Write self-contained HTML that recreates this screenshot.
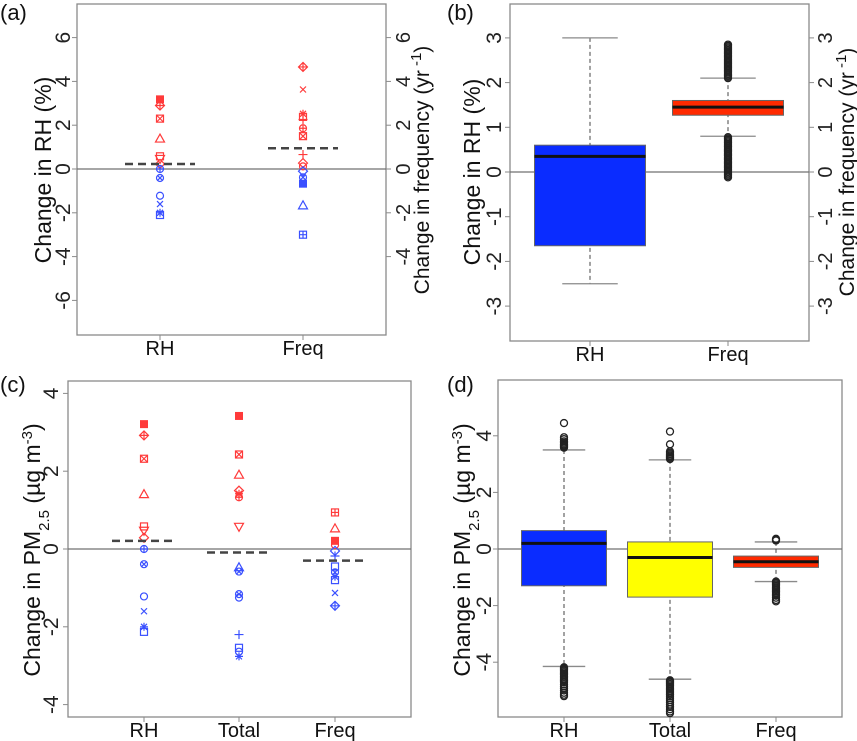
<!DOCTYPE html>
<html><head><meta charset="utf-8"><style>
html,body{margin:0;padding:0;background:#fff;}
svg{display:block;font-family:"Liberation Sans",Arial,sans-serif;}
</style></head><body>
<svg id="fig" width="857" height="741" viewBox="0 0 857 741" xmlns="http://www.w3.org/2000/svg"></svg>
<script>
// ---------- Panel (a) data ----------
const aCats = ["RH","Freq"];
const aRHVals = [3.18,2.9,2.3,1.39,0.58,0.46,0.23,0,-0.41,-1.22,-1.6,-2.0,-2.1];
const aRHShapes = ["fsq","dplus","sqx","tri","sq","dtri","dia","cplus","cx","circ","x","star","sq"];
const aFreqVals = [4.66,3.63,2.52,2.38,2.26,1.86,1.5,0.66,0.27,0.12,-0.1,-0.38,-0.67,-1.66,-3.0];
const aFreqShapes = ["dplus","x","star","sq","plus","cplus","sqx","plus","dia","circ","dia","cx","fsq","tri","sqp"];
const aMeans = [0.23,0.95];
const aTicks = [-6,-4,-2,0,2,4,6];
const aRightTicks = [-4,-2,0,2,4,6];
// ---------- Panel (b) data ----------
const bCats = ["RH","Freq"];
const bQ1 = [-1.65,1.27];
const bMed = [0.35,1.45];
const bQ3 = [0.6,1.6];
const bLow = [-2.5,0.8];
const bHigh = [3.0,2.1];
const bOutFreqHigh = [2.1,2.13,2.16,2.19,2.22,2.25,2.28,2.31,2.34,2.37,2.4,2.43,2.46,2.49,2.52,2.55,2.58,2.61,2.64,2.67,2.7,2.73,2.76,2.79,2.82,2.85];
const bOutFreqLow = [-0.12,-0.09,-0.06,-0.03,0,0.03,0.06,0.09,0.12,0.15,0.18,0.21,0.24,0.27,0.3,0.33,0.36,0.39,0.42,0.45,0.48,0.51,0.54,0.57,0.6,0.63,0.66,0.69,0.72,0.75,0.78];
const bTicks = [-3,-2,-1,0,1,2,3];
// ---------- Panel (c) data ----------
const cCats = ["RH","Total","Freq"];
const cRHVals = [3.21,2.92,2.32,1.41,0.58,0.47,0.29,0,-0.39,-1.22,-1.6,-2.0,-2.13];
const cRHShapes = ["fsq","dplus","sqx","tri","sq","dtri","dia","cplus","cx","circ","x","star","sq"];
const cTotVals = [3.42,2.43,1.91,1.5,1.42,1.33,0.57,-0.47,-0.58,-1.16,-1.25,-2.2,-2.54,-2.64,-2.76];
const cTotShapes = ["fsq","sqx","tri","dia","star","cplus","dtri","tri","cx","cx","circ","plus","sq","circ","star"];
const cFreqVals = [0.94,0.53,0.21,0.1,-0.05,-0.18,-0.45,-0.6,-0.71,-0.8,-1.13,-1.46];
const cFreqShapes = ["sqp","tri","fsq","circ","dia","plus","sq","cx","star","sq","x","dplus"];
const cMeans = [0.21,-0.09,-0.3];
const cTicks = [-4,-2,0,2,4];
// ---------- Panel (d) data ----------
const dCats = ["RH","Total","Freq"];
const dQ1 = [-1.3,-1.7,-0.65];
const dMed = [0.2,-0.3,-0.45];
const dQ3 = [0.65,0.25,-0.25];
const dLow = [-4.15,-4.6,-1.15];
const dHigh = [3.5,3.15,0.25];
const dOutRH = [3.58,3.62,3.66,3.7,3.75,3.8,3.88,3.95,4.45,-4.18,-4.22,-4.26,-4.3,-4.35,-4.4,-4.45,-4.5,-4.55,-4.6,-4.65,-4.7,-4.78,-4.85,-4.92,-5.0,-5.08,-5.15,-5.2];
const dOutTot = [3.18,3.22,3.26,3.3,3.35,3.4,3.45,3.7,4.15,-4.64,-4.68,-4.72,-4.77,-4.82,-4.87,-4.92,-4.97,-5.02,-5.08,-5.14,-5.2,-5.27,-5.34,-5.42,-5.5,-5.58,-5.66,-5.74,-5.8];
const dOutFreq = [0.3,0.33,0.36,-1.15,-1.2,-1.25,-1.3,-1.35,-1.4,-1.45,-1.5,-1.55,-1.6,-1.65,-1.72,-1.8,-1.85];
const dTicks = [-4,-2,0,2,4];

const NS = "http://www.w3.org/2000/svg";
const svg = document.getElementById("fig");
function mk(tag, attrs, parent, text){
  const e = document.createElementNS(NS, tag);
  for (const k in attrs) e.setAttribute(k, attrs[k]);
  if (text !== undefined) e.textContent = text;
  (parent || svg).appendChild(e);
  return e;
}
const RED = "#ff3a3a", BLUE = "#3a50ff";

function symbol(g, shape, x, y, col){
  const r = 3.5;
  const s = {fill:"none", stroke:col, "stroke-width":1.2};
  let e;
  if (shape === "fsq") { e = mk("rect", {x:x-r,y:y-r,width:2*r,height:2*r,fill:col,stroke:col}, g); }
  else if (shape === "sq" || shape === "sqx" || shape === "sqp") {
    e = mk("rect", Object.assign({x:x-r,y:y-r,width:2*r,height:2*r}, s), g);
    if (shape === "sqx") { mk("path", Object.assign({d:`M${x-r} ${y-r}L${x+r} ${y+r}M${x+r} ${y-r}L${x-r} ${y+r}`}, s), g); }
    if (shape === "sqp") { mk("path", Object.assign({d:`M${x-r} ${y}L${x+r} ${y}M${x} ${y-r}L${x} ${y+r}`}, s), g); }
  }
  else if (shape === "circ" || shape === "cx" || shape === "cplus") {
    e = mk("circle", Object.assign({cx:x,cy:y,r:r}, s), g);
    if (shape === "cx") mk("path", Object.assign({d:`M${x-2.5} ${y-2.5}L${x+2.5} ${y+2.5}M${x+2.5} ${y-2.5}L${x-2.5} ${y+2.5}`}, s), g);
    if (shape === "cplus") mk("path", Object.assign({d:`M${x-r} ${y}L${x+r} ${y}M${x} ${y-r}L${x} ${y+r}`}, s), g);
  }
  else if (shape === "tri") { e = mk("path", Object.assign({d:`M${x} ${y-4.5}L${x+4.5} ${y+3.5}L${x-4.5} ${y+3.5}Z`}, s), g); }
  else if (shape === "dtri") { e = mk("path", Object.assign({d:`M${x} ${y+4.5}L${x+4.5} ${y-3.5}L${x-4.5} ${y-3.5}Z`}, s), g); }
  else if (shape === "dia" || shape === "dplus") {
    e = mk("path", Object.assign({d:`M${x} ${y-4.5}L${x+4.5} ${y}L${x} ${y+4.5}L${x-4.5} ${y}Z`}, s), g);
    if (shape === "dplus") mk("path", Object.assign({d:`M${x-4.5} ${y}L${x+4.5} ${y}M${x} ${y-4.5}L${x} ${y+4.5}`}, s), g);
  }
  else if (shape === "x") { e = mk("path", Object.assign({d:`M${x-3} ${y-3}L${x+3} ${y+3}M${x+3} ${y-3}L${x-3} ${y+3}`}, s), g); }
  else if (shape === "plus") { e = mk("path", Object.assign({d:`M${x-4.5} ${y}L${x+4.5} ${y}M${x} ${y-4.5}L${x} ${y+4.5}`}, s), g); }
  else { e = mk("path", Object.assign({d:`M${x-4} ${y}L${x+4} ${y}M${x} ${y-4}L${x} ${y+4}M${x-3} ${y-3}L${x+3} ${y+3}M${x+3} ${y-3}L${x-3} ${y+3}`}, s), g); }
  return e;
}

function panel(o){
  const g = mk("g", {});
  
  
  const y = v => o.y0 - v * o.k;
  const lab = mk("text", {x:o.labX, y:o.labY, "font-size":22, fill:"#111"}, g, o.label);
  
  
  const frame = mk("rect", {x:o.L, y:o.T, width:o.R-o.L, height:o.B-o.T, fill:"none", stroke:"#8a8a8a", "stroke-width":1.3}, g);
  
  
  const zl = mk("line", {x1:o.L, x2:o.R, y1:y(0), y2:y(0), stroke:"#707070", "stroke-width":1.2}, g);
  
  
  o.ticks.forEach(t => {
    const tk = mk("line", {x1:o.L-5, x2:o.L, y1:y(t), y2:y(t), stroke:"#8a8a8a"}, g);
    
    
    const tl = mk("text", {x:0, y:0, "font-size":21, "text-anchor":"middle", fill:"#222", transform:`translate(${o.tickX},${y(t)}) rotate(-90)`}, g, String(t));
    
    
  });
  if (o.rticks) {
    o.rticks.forEach(t => {
      const tk = mk("line", {x1:o.R, x2:o.R+5, y1:y(t), y2:y(t), stroke:"#8a8a8a"}, g);
      
      
      const tl = mk("text", {x:0, y:0, "font-size":20, "text-anchor":"middle", fill:"#222", transform:`translate(${o.rtickX},${y(t)}) rotate(-90)`}, g, String(t));
      
      
    });
  }
  o.cats.forEach((c, i) => {
    const tk = mk("line", {x1:o.cx[i], x2:o.cx[i], y1:o.B, y2:o.B+5, stroke:"#8a8a8a"}, g);
    
    
    const tl = mk("text", {x:o.cx[i], y:o.B+20, "font-size":20, "text-anchor":"middle", fill:"#111"}, g, c);
    
    
  });
  return {g, y};
}

function ytitle(g, x, yc, parts, name, fs){
  const t = mk("text", {x:0, y:0, "font-size":fs || 23, "text-anchor":"middle", fill:"#111", transform:`translate(${x},${yc}) rotate(-90)`}, g);
  
  
  parts.forEach(p => {
    mk("tspan", p.sub ? {"baseline-shift":p.sub, "font-size":15} : {}, t, p.t);
  });
}

function scatter(g, y, xc, vals, shapes, name){
  vals.forEach((v, i) => {
    const col = v > 0.001 || (v === 0 && i < vals.length/2) ? RED : BLUE;
    const e = symbol(g, shapes[i], xc, y(v), col);
    
    
  });
}
function meanLine(g, y, xc, v, hw){
  const e = mk("line", {x1:xc-hw, x2:xc+hw, y1:y(v), y2:y(v), stroke:"#444", "stroke-width":2.5, "stroke-dasharray":"8,5"}, g);
  
  
}
function boxplot(g, y, xc, hw, q1, med, q3, lo, hi, fill, outs){
  const wl = mk("line", {x1:xc, x2:xc, y1:y(hi), y2:y(lo), stroke:"#444", "stroke-dasharray":"4,3"}, g);
  
  
  [lo, hi].forEach(v => {
    const c = mk("line", {x1:xc-hw/2, x2:xc+hw/2, y1:y(v), y2:y(v), stroke:"#8a8a8a", "stroke-width":1.3}, g);
    
    
  });
  const b = mk("rect", {x:xc-hw, y:y(q3), width:2*hw, height:y(q1)-y(q3), fill:fill, stroke:"#666"}, g);
  
  
  const m = mk("line", {x1:xc-hw, x2:xc+hw, y1:y(med), y2:y(med), stroke:"#111", "stroke-width":3}, g);
  
  
  outs.forEach(v => {
    const c = mk("circle", {cx:xc, cy:y(v), r:3.5, fill:"none", stroke:"#222", "stroke-width":1.3}, g);
    
    
  });
}

// Panel a
{
  const cx = [160, 303];
  const {g, y} = panel({name:"panel-a", label:"(a)", labX:0, labY:20, L:77, R:386, T:4, B:335, y0:169, k:21.9,
    ticks:aTicks, tickX:70, rticks:aRightTicks, rtickX:410, cats:aCats, cx});
  ytitle(g, 51, 170, [{t:"Change in RH (%)"}], "y-axis-title");
  ytitle(g, 429, 170, [{t:"Change in frequency (yr"},{t:" -1",sub:"super"},{t:")"}], "right-y-axis-title", 21);
  scatter(g, y, cx[0], aRHVals, aRHShapes, "point-rh");
  scatter(g, y, cx[1], aFreqVals, aFreqShapes, "point-freq");
  aMeans.forEach((m, i) => meanLine(g, y, cx[i], m, 35));
}
// Panel b
{
  const cx = [590, 728];
  const {g, y} = panel({name:"panel-b", label:"(b)", labX:447, labY:20, L:510, R:809, T:4, B:341, y0:172, k:44.7,
    ticks:bTicks, tickX:501, rticks:bTicks, rtickX:832, cats:bCats, cx});
  ytitle(g, 480, 172, [{t:"Change in RH (%)"}], "y-axis-title");
  ytitle(g, 854, 172, [{t:"Change in frequency (yr"},{t:" -1",sub:"super"},{t:")"}], "right-y-axis-title", 21);
  const fills = ["#0a2cff", "#ff2a00"];
  bCats.forEach((c, i) => {
    const outs = i === 1 ? bOutFreqHigh.concat(bOutFreqLow) : [];
    boxplot(g, y, cx[i], 55.5, bQ1[i], bMed[i], bQ3[i], bLow[i], bHigh[i], fills[i], outs);
  });
}
// Panel c
{
  const cx = [144, 239, 335];
  const {g, y} = panel({name:"panel-c", label:"(c)", labX:0, labY:392, L:68, R:411, T:381, B:717, y0:549, k:38.9,
    ticks:cTicks, tickX:58, cats:cCats, cx});
  ytitle(g, 40, 550, [{t:"Change in PM"},{t:"2.5",sub:"sub"},{t:" (µg m"},{t:"-3",sub:"super"},{t:")"}], "y-axis-title");
  scatter(g, y, cx[0], cRHVals, cRHShapes, "point-rh");
  scatter(g, y, cx[1], cTotVals, cTotShapes, "point-total");
  scatter(g, y, cx[2], cFreqVals, cFreqShapes, "point-freq");
  cMeans.forEach((m, i) => meanLine(g, y, cx[i], m, 32));
}
// Panel d
{
  const cx = [564, 670, 776];
  const {g, y} = panel({name:"panel-d", label:"(d)", labX:447, labY:392, L:498, R:842, T:380, B:717, y0:549, k:28.3,
    ticks:dTicks, tickX:491, cats:dCats, cx});
  ytitle(g, 470, 550, [{t:"Change in PM"},{t:"2.5",sub:"sub"},{t:" (µg m"},{t:"-3",sub:"super"},{t:")"}], "y-axis-title");
  const fills = ["#0a2cff", "#ffff00", "#ff2a00"];
  const outs = [dOutRH, dOutTot, dOutFreq];
  dCats.forEach((c, i) => boxplot(g, y, cx[i], 42.5, dQ1[i], dMed[i], dQ3[i], dLow[i], dHigh[i], fills[i], outs[i]));
}
</script>
</body></html>
